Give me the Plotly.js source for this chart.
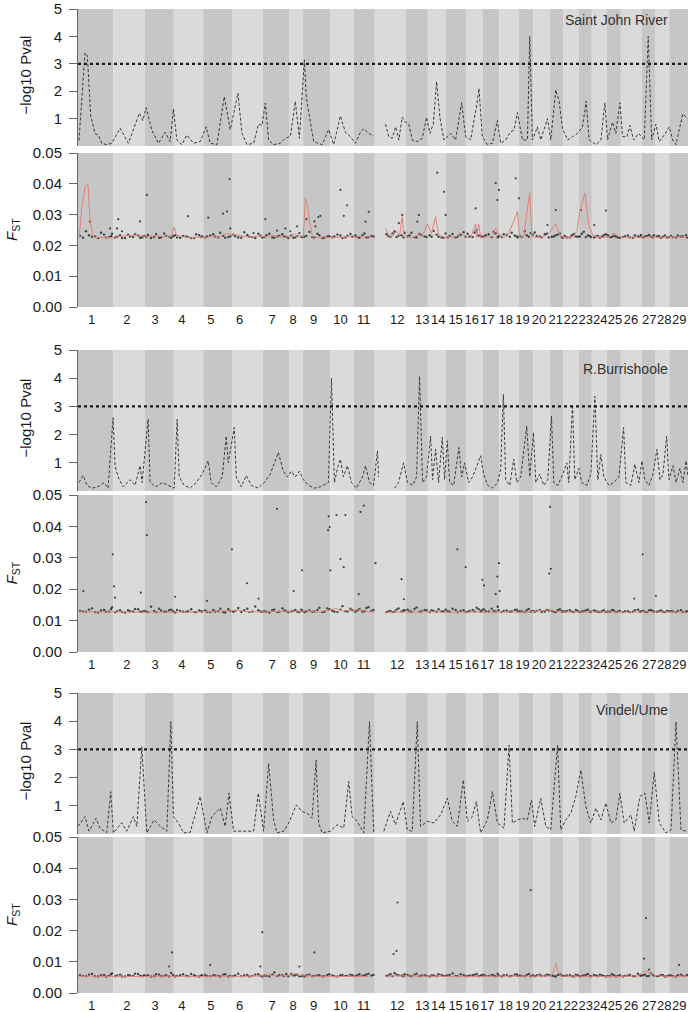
<!DOCTYPE html>
<html><head><meta charset="utf-8">
<script src="https://cdn.plot.ly/plotly-3.0.1.min.js"></script>
<style>html,body{margin:0;padding:0;background:#fff}#chart{width:692px;height:1012px}</style>
</head><body><div id="chart"></div>
<script>
// ---------- data ----------
const chromosomes = ['1','2','3','4','5','6','7','8','9','10','11','12','13','14','15','16','17','18','19','20','21','22','23','24','25','26','27','28','29'];
// chromosome lengths (cumulative position units)
const chromLength = [35.3,31.4,29,29.3,28.7,30.6,27,13.4,27.3,23.3,21,30.7,22.3,18,20,16.4,17,19,15,16.6,13.4,15,13.3,14.7,14.3,20.7,13.3,14.3,18.7];
// position of chromosome labels (cumulative)
const labelPos = [13.7,48.7,77,103.7,132.7,161.3,193.7,214.7,235.3,262,285.3,318.7,343.7,359.7,377,393,408.7,427,443.7,460.3,477,492,507,521.3,536,552,570.3,585.3,600.3];
const panelNames = ['Saint John River','R.Burrishoole','Vindel/Ume'];
const pvalTicks = [1,2,3,4,5];
const fstTicks = [0,0.01,0.02,0.03,0.04,0.05];
const fstTickText = ['0.00','0.01','0.02','0.03','0.04','0.05'];
const threshold = 3;

// -log10 P values along the genome [position, value]; null = no data
const sjPval = [[1,0.2],[7,3.4],[9.3,3.3],[12.7,1.1],[17,0.45],[20.3,0.4],[23.7,0.1],[28.7,0.05],[33.7,0.1],[42,0.65],[50.3,0.1],[61.3,1.2],[64.7,0.93],[68,1.4],[73.7,0.58],[80.3,0.1],[87,0.5],[92,0.16],[95.3,1.35],[98.7,0.22],[103.7,0.05],[108.7,0.4],[115.3,0.1],[122,0.16],[128,0.7],[132,0.1],[138.7,0.05],[146,1.8],[152,0.6],[159.7,1.93],[163.7,0.46],[168.7,0.05],[175.3,0.1],[180.3,0.8],[183.7,0.75],[187,1.57],[190.3,0.22],[195.3,0.05],[202,0.1],[207,0.28],[212,0.35],[217,1.63],[221,0.28],[226,3.15],[228,1.75],[230.3,1.28],[235.3,0.16],[243.7,0.05],[250.3,0.6],[255.3,0.05],[262,1.1],[267,0.5],[272,0.34],[277,0.1],[282,0.5],[285.3,0.63],[290.3,0.46],[295.3,0.36],null,[307,0.8],[310.3,0.34],[313.7,0.28],[317,0.7],[320.3,0.22],[323.7,1.05],[327,0.87],[330.3,0.8],[333.7,0.22],[338.7,0.16],[343.7,0.28],[348,1.05],[351.3,0.46],[354.7,0.8],[358,2.35],[361.3,1.05],[365.3,0.22],[372,0.46],[377,0.22],[383,1.58],[387,0.34],[392,0.22],[395.3,0.93],[398,1.46],[400.3,2.1],[403.7,0.34],[408.7,0.05],[413.7,0.1],[418.7,0.93],[422,0.1],[427,0.22],[432,0.52],[435.3,0.58],[438.7,1.22],[443.7,0.22],[448.7,0.22],[451,4.0],[453.7,0.22],[458.7,0.7],[462,0.22],[468.7,1.0],[472,0.22],[477,2.05],[480.3,1.64],[483.7,0.64],[488.7,0.22],[493.7,0.34],[498.7,0.46],[503.7,0.7],[507.3,1.64],[510.3,0.22],[517,0.05],[522,0.22],[526,1.58],[528.7,0.22],[533.7,0.87],[537,0.46],[541,1.58],[543.7,0.34],[548,0.34],[551,0.75],[554.7,0.22],[559.7,0.46],[565.3,0.22],[569.3,4.0],[572.7,0.22],[577,0.8],[580.3,0.16],[585.3,0.4],[590.3,0.7],[593.7,0.22],[597,0.05],[603.7,1.17],[608.7,1.0]];
const buPval = [[1,0.3],[5,0.55],[9,0.2],[14,0.1],[20,0.15],[26,0.3],[30,0.1],[35,2.6],[37,0.9],[40,0.5],[45,0.15],[52,0.4],[57,0.2],[62,0.9],[64,0.3],[70,2.55],[72,0.3],[78,0.15],[84,0.3],[90,0.2],[96,0.1],[99,2.55],[101,0.5],[106,0.2],[112,0.1],[118,0.3],[124,0.6],[130,1.07],[133,0.3],[138,0.15],[144,0.5],[148,1.95],[150,1.0],[156,2.25],[158,0.5],[163,0.15],[168,0.55],[173,0.2],[180,0.1],[186,0.3],[192,0.6],[200,1.37],[205,0.7],[209,0.5],[213,0.7],[217,0.5],[221,0.7],[225,0.4],[230,0.2],[236,0.1],[242,0.15],[250,0.3],[253,4.0],[256,0.3],[259,0.8],[262,1.13],[265,0.5],[269,0.9],[273,0.3],[278,0.1],[284,0.5],[287,0.9],[291,0.3],[295,0.2],[299,1.42],[300,0.5],null,[316,0.1],[320,0.3],[325,1.0],[329,0.3],[334,0.2],[338,0.5],[341,4.07],[344,0.3],[348,0.5],[352,1.95],[354,0.4],[357,1.48],[360,0.3],[363.7,1.9],[366,0.4],[368.7,1.78],[371,0.3],[375,0.2],[380.3,1.54],[383,0.5],[386,1.0],[390,0.3],[394,0.5],[398,0.9],[402,1.25],[405,0.6],[409,0.2],[414,0.1],[419,0.3],[422,0.8],[424.7,3.42],[427,0.4],[431,0.2],[435,1.13],[438,0.3],[442,0.5],[448,2.3],[451,0.5],[454.7,2.07],[457,0.3],[461,0.6],[465,0.2],[469,0.4],[472.7,2.66],[475,0.3],[479,0.2],[484,0.6],[488,1.0],[490,0.3],[493.7,3.07],[496,0.4],[500,0.8],[503,0.3],[508,0.2],[512,0.6],[516,3.36],[519,0.4],[522,1.3],[525,0.5],[530,0.2],[535,0.3],[540,0.5],[544.7,2.25],[547,0.3],[552,0.2],[556,0.95],[560,0.3],[563,1.07],[566,0.4],[570,0.2],[574,0.6],[578,1.48],[581,0.4],[584,0.6],[587.7,1.95],[590,0.4],[594,0.9],[597,0.3],[601,0.8],[604,0.3],[607,1.07],[609,0.5]];
const vuPval = [[0,0.27],[7,0.62],[11,0.1],[18,0.56],[22,0.2],[28.7,0.05],[32.7,1.5],[35.3,0.04],[43.7,0.4],[48.7,0.1],[55.3,0.62],[58.7,0.27],[63.7,3.1],[68.7,0.04],[76,0.5],[82,0.27],[88.7,0.1],[92.7,3.98],[95.3,0.62],[100.3,0.39],[105.3,0.04],[112,0.06],[122,1.33],[128.7,0.04],[133.7,0.62],[142,0.92],[147,0.27],[150.7,1.45],[155.3,0.1],[165.3,0.1],[175.3,0.1],[180,1.45],[185.3,0.1],[190.3,2.5],[195.3,0.5],[198.7,0.04],[205.3,0.1],[210.3,0.39],[218,1.03],[223.7,0.8],[228.7,0.74],[233.7,0.56],[237.7,2.62],[240.3,0.39],[243.7,0.04],[252,0.1],[258.7,0.33],[265.3,0.21],[270.3,1.86],[273.7,0.62],[278.7,0.45],[285.3,0.04],[291,3.98],[295.3,0.04],null,[305.3,0.1],[312,0.8],[317,0.33],[324.7,1.15],[328.7,0.15],[333.7,0.1],[338.7,3.98],[342,0.27],[348.7,0.45],[355.3,0.39],[362,0.68],[368.7,1.27],[373.7,0.45],[378.7,0.27],[384.7,1.92],[388.7,0.45],[393.7,0.62],[397.7,1.15],[402,0.04],[408.7,0.5],[413.7,1.5],[418.7,0.39],[425.3,0.21],[430.3,3.15],[433.7,0.39],[438.7,0.5],[443.7,0.56],[448.7,0.5],[452.7,1.2],[456,0.27],[462,1.27],[467,0.27],[472,0.15],[478.7,3.15],[482,0.15],[487,0.5],[492,0.74],[497,1.33],[502,2.27],[507,0.98],[512,0.39],[517,0.92],[522,0.5],[527,1.1],[532,0.39],[537,0.5],[541,1.45],[545.3,0.39],[552,0.68],[555.3,0.1],[561,1.33],[566,1.45],[570.3,0.39],[575.3,2.2],[580.3,0.39],[587,0.04],[592,0.15],[597,3.98],[602,0.15],[607,0.1]];

// SNP window positions shared across populations (baseline FST points), two interleaved sets
const snpPos = [2,8,14,20,26,31,34, 37,42,47,52,57,62,66, 68,73,78,83,88,93, 97,102,108,113,118,123, 127,132,137,142,147,152, 155,160,166,171,177,182, 186,191,196,201,206,210, 213,217,221,224, 226,231,236,241,246,251, 254,259,264,269,274, 277,281,286,290,295, 308,312,316,320,325, 329,333,338,343,348, 351,355,360,365, 369,374,379,385, 389,394,398,402, 405,410,415,419, 423,428,433,438, 441,446,450,454, 456,461,466,470, 473,477,481,484, 486,491,495,499, 501,505,509,512, 515,519,523,527, 529,533,537,541, 544,549,554,559,562, 564,568,572,575, 578,582,586,590, 592,597,602,607];
const snpPos2 = [5,11,17,23,28,33, 39,44,50,55,60,64, 70,76,81,86,91,95, 99,105,110,116,121,124, 129,135,140,145,150, 157,163,169,174,180,184, 188,194,199,204,208, 215,219,223, 228,234,239,244,249, 256,262,267,272, 279,284,288,293, 310,314,318,323,326, 331,336,341,346, 353,358,363,367, 371,377,382,387, 391,396,400,403, 407,413,417,420, 425,431,436,439, 443,448,452, 458,463,468, 475,479,483, 488,493,497, 503,507,511, 517,521,525, 531,535,539, 546,551,556,561, 566,570,574, 580,584,588, 594,599,604,608];
const sjFst = [0.0231,0.0246,0.0228,0.0224,0.0235,0.0227,0.0238, 0.0226,0.0233,0.0224,0.0229,0.0236,0.0225,0.0231, 0.0228,0.0224,0.0237,0.0226,0.0231,0.0225, 0.0233,0.0225,0.0229,0.0224,0.0236,0.0227, 0.0226,0.0232,0.0228,0.0241,0.0225,0.0230, 0.0235,0.0226,0.0243,0.0228,0.0224,0.0232, 0.0227,0.0238,0.0225,0.0231,0.0229,0.0224, 0.0232,0.0226,0.0240,0.0227, 0.0228,0.0244,0.0226,0.0233,0.0225,0.0230, 0.0226,0.0235,0.0224,0.0231,0.0228, 0.0232,0.0225,0.0239,0.0227,0.0229, 0.0236,0.0228,0.0245,0.0231,0.0226, 0.0229,0.0241,0.0226,0.0234,0.0227, 0.0233,0.0247,0.0228,0.0225, 0.0226,0.0237,0.0229,0.0243, 0.0238,0.0227,0.0249,0.0231, 0.0229,0.0236,0.0244,0.0226, 0.0227,0.0234,0.0241,0.0229, 0.0231,0.0246,0.0228,0.0235, 0.0242,0.0229,0.0236,0.0226, 0.0228,0.0233,0.0239,0.0225, 0.0231,0.0226,0.0237,0.0228, 0.0229,0.0244,0.0232,0.0227, 0.0226,0.0231,0.0228,0.0236, 0.0233,0.0227,0.0229,0.0225, 0.0227,0.0232,0.0225,0.0229,0.0234, 0.0226,0.0231,0.0228,0.0233, 0.0229,0.0225,0.0232,0.0227, 0.0231,0.0226,0.0229,0.0234];
const sjFst2 = [0.0225,0.0233,0.0229,0.0241,0.0226,0.0230, 0.0228,0.0224,0.0235,0.0227,0.0232,0.0226, 0.0234,0.0227,0.0225,0.0239,0.0228,0.0230, 0.0226,0.0231,0.0227,0.0224,0.0233,0.0229, 0.0229,0.0236,0.0226,0.0231,0.0227, 0.0230,0.0225,0.0234,0.0227,0.0238,0.0226, 0.0233,0.0226,0.0229,0.0236,0.0227, 0.0225,0.0231,0.0228, 0.0231,0.0227,0.0238,0.0224,0.0229, 0.0229,0.0232,0.0226,0.0237, 0.0227,0.0233,0.0226,0.0231, 0.0230,0.0239,0.0227,0.0233,0.0241, 0.0232,0.0227,0.0237,0.0229, 0.0228,0.0235,0.0226,0.0239, 0.0231,0.0226,0.0234,0.0228, 0.0229,0.0242,0.0232,0.0227, 0.0233,0.0227,0.0239,0.0230, 0.0236,0.0228,0.0232,0.0226, 0.0227,0.0233,0.0240, 0.0231,0.0226,0.0238, 0.0229,0.0235,0.0227, 0.0226,0.0233,0.0229, 0.0238,0.0227,0.0231, 0.0229,0.0225,0.0233, 0.0227,0.0231,0.0226, 0.0230,0.0226,0.0233,0.0228, 0.0229,0.0234,0.0226, 0.0231,0.0228,0.0226, 0.0227,0.0232,0.0229,0.0226];
const buFst = [0.0131,0.0128,0.0139,0.0126,0.0134,0.0129,0.0142, 0.0127,0.0133,0.0126,0.0130,0.0137,0.0128,0.0131, 0.0129,0.0144,0.0127,0.0132,0.0128,0.0135, 0.0126,0.0131,0.0128,0.0136,0.0127,0.0130, 0.0132,0.0127,0.0129,0.0138,0.0126,0.0131, 0.0128,0.0140,0.0133,0.0127,0.0145,0.0129, 0.0130,0.0126,0.0135,0.0128,0.0132,0.0127, 0.0129,0.0134,0.0127,0.0131, 0.0127,0.0133,0.0129,0.0141,0.0128,0.0136, 0.0131,0.0127,0.0146,0.0129,0.0133, 0.0128,0.0137,0.0130,0.0143,0.0134, 0.0127,0.0131,0.0128,0.0139,0.0132, 0.0135,0.0128,0.0142,0.0130,0.0133, 0.0127,0.0131,0.0136,0.0129, 0.0130,0.0138,0.0127,0.0133, 0.0128,0.0134,0.0141,0.0129, 0.0136,0.0129,0.0131,0.0144, 0.0127,0.0132,0.0129,0.0135, 0.0130,0.0127,0.0137,0.0131, 0.0128,0.0134,0.0129,0.0132, 0.0131,0.0127,0.0136,0.0129, 0.0129,0.0133,0.0127,0.0131, 0.0127,0.0130,0.0135,0.0128, 0.0132,0.0128,0.0130,0.0127, 0.0129,0.0134,0.0127,0.0131, 0.0127,0.0130,0.0128,0.0135,0.0129, 0.0131,0.0127,0.0134,0.0129, 0.0128,0.0132,0.0127,0.0130, 0.0130,0.0127,0.0133,0.0128];
const buFst2 = [0.0129,0.0135,0.0127,0.0132,0.0128,0.0137, 0.0130,0.0127,0.0133,0.0129,0.0136,0.0128, 0.0127,0.0131,0.0138,0.0128,0.0133,0.0130, 0.0134,0.0128,0.0130,0.0127,0.0132,0.0129, 0.0128,0.0134,0.0130,0.0127,0.0136, 0.0131,0.0127,0.0138,0.0129,0.0133,0.0128, 0.0128,0.0133,0.0127,0.0139,0.0130, 0.0131,0.0128,0.0135, 0.0130,0.0128,0.0134,0.0127,0.0139, 0.0128,0.0135,0.0130,0.0138, 0.0133,0.0129,0.0140,0.0131, 0.0130,0.0127,0.0135,0.0129,0.0133, 0.0130,0.0137,0.0128,0.0134, 0.0133,0.0128,0.0130,0.0135, 0.0128,0.0134,0.0131,0.0127, 0.0131,0.0129,0.0136,0.0132, 0.0130,0.0138,0.0128,0.0133, 0.0131,0.0128,0.0134,0.0129, 0.0129,0.0133,0.0128, 0.0131,0.0127,0.0134, 0.0128,0.0133,0.0130, 0.0131,0.0128,0.0134, 0.0129,0.0132,0.0128, 0.0130,0.0127,0.0133, 0.0128,0.0132,0.0129, 0.0130,0.0127,0.0133,0.0129, 0.0128,0.0132,0.0130, 0.0130,0.0128,0.0131, 0.0129,0.0131,0.0127,0.0130];
const vuFst = [0.0057,0.0054,0.0061,0.0053,0.0058,0.0055,0.0063, 0.0054,0.0059,0.0053,0.0056,0.0062,0.0055,0.0057, 0.0055,0.0053,0.0060,0.0054,0.0057,0.0064, 0.0053,0.0057,0.0055,0.0061,0.0054,0.0056, 0.0058,0.0054,0.0056,0.0053,0.0060,0.0055, 0.0054,0.0062,0.0057,0.0053,0.0059,0.0055, 0.0056,0.0053,0.0066,0.0058,0.0055,0.0054, 0.0061,0.0057,0.0054,0.0056, 0.0053,0.0059,0.0055,0.0057,0.0054,0.0060, 0.0056,0.0053,0.0058,0.0055,0.0057, 0.0054,0.0060,0.0056,0.0062,0.0058, 0.0055,0.0061,0.0064,0.0057,0.0054, 0.0058,0.0054,0.0062,0.0056,0.0055, 0.0053,0.0057,0.0060,0.0055, 0.0056,0.0063,0.0054,0.0058, 0.0054,0.0057,0.0061,0.0055, 0.0059,0.0055,0.0057,0.0062, 0.0053,0.0058,0.0055,0.0060, 0.0056,0.0054,0.0061,0.0057, 0.0054,0.0059,0.0055,0.0058, 0.0057,0.0053,0.0060,0.0055, 0.0055,0.0058,0.0053,0.0057, 0.0053,0.0056,0.0061,0.0054, 0.0058,0.0054,0.0056,0.0053, 0.0055,0.0060,0.0053,0.0057, 0.0053,0.0056,0.0054,0.0062,0.0055, 0.0057,0.0054,0.0063,0.0056, 0.0054,0.0058,0.0053,0.0056, 0.0056,0.0053,0.0059,0.0055];
const vuFst2 = [0.0055,0.0059,0.0054,0.0057,0.0053,0.0060, 0.0056,0.0053,0.0058,0.0055,0.0061,0.0054, 0.0057,0.0054,0.0059,0.0055,0.0053,0.0058, 0.0055,0.0060,0.0054,0.0057,0.0053,0.0056, 0.0054,0.0057,0.0055,0.0059,0.0053, 0.0056,0.0054,0.0058,0.0055,0.0060,0.0053, 0.0055,0.0059,0.0054,0.0057,0.0061, 0.0056,0.0059,0.0054, 0.0057,0.0054,0.0056,0.0053,0.0058, 0.0054,0.0057,0.0055,0.0059, 0.0057,0.0055,0.0059,0.0056, 0.0057,0.0054,0.0059,0.0056,0.0060, 0.0055,0.0059,0.0054,0.0057, 0.0056,0.0054,0.0058,0.0055, 0.0058,0.0055,0.0060,0.0054, 0.0056,0.0059,0.0054,0.0057, 0.0055,0.0058,0.0054,0.0056, 0.0057,0.0054,0.0059,0.0055, 0.0055,0.0058,0.0054, 0.0057,0.0055,0.0059, 0.0054,0.0058,0.0056, 0.0056,0.0054,0.0059, 0.0055,0.0058,0.0054, 0.0056,0.0059,0.0055, 0.0054,0.0057,0.0055, 0.0055,0.0058,0.0054,0.0057, 0.0059,0.0055,0.0058, 0.0055,0.0057,0.0054, 0.0054,0.0057,0.0055,0.0058];

// outlying FST windows [position, FST]
const sjFstOutliers = [[12,0.0277],[32,0.0255],[39,0.0255],[40.3,0.0285],[44,0.0246],[62,0.0278],[68.7,0.0364],[110,0.0295],[130,0.029],[144.7,0.0303],[148.7,0.031],[151.3,0.0415],[152,0.0255],[175.3,0.024],[187,0.0285],[198.7,0.0248],[207,0.0255],[212,0.0246],[218.7,0.0262],[228,0.0285],[236,0.0278],[237,0.0262],[240,0.0292],[242,0.0296],[262,0.038],[268.7,0.033],[265.3,0.0296],[290.3,0.0309],[287,0.0277],[323.7,0.0299],[320.3,0.0272],[338.7,0.0277],[340.3,0.0299],[358.7,0.0436],[365.3,0.0374],[367,0.0299],[397,0.032],[417,0.0402],[420.3,0.038],[418.7,0.0347],[437,0.0418],[440.3,0.0353],[477,0.0315],[468.7,0.0266],[502,0.0315],[527,0.0313],[515.3,0.0266]];
const buFstOutliers = [[5.3,0.0194],[34.7,0.0311],[36,0.0209],[37,0.0173],[62.7,0.0189],[68,0.0477],[68.7,0.0372],[97,0.0176],[128.7,0.0163],[153.7,0.0327],[168.7,0.0219],[180.3,0.017],[198.7,0.0456],[223.7,0.026],[215.3,0.0194],[250.3,0.0432],[251.3,0.0398],[249.7,0.0388],[252,0.026],[258,0.0436],[262,0.0296],[265.3,0.027],[267,0.0436],[282,0.0446],[285.3,0.0466],[297,0.0283],[280.3,0.0184],[323,0.0232],[325.3,0.0168],[378.7,0.0327],[387,0.027],[403.7,0.023],[405.3,0.0212],[417,0.0184],[420.3,0.0283],[418.7,0.024],[421,0.0194],[471.3,0.0462],[472,0.0265],[470.3,0.025],[563.7,0.0311],[555.3,0.017],[577,0.0179]];
const vuFstOutliers = [[94,0.013],[91,0.0085],[184,0.0195],[132,0.009],[182,0.0085],[221,0.0085],[236,0.013],[318,0.0135],[315,0.0125],[319,0.029],[452,0.033],[567,0.024],[565,0.011],[600,0.009],[570,0.0075]];

// smoothed FST [position, FST]
const sjFstSmooth = [[1,0.0223],[4,0.0326],[7,0.039],[10,0.0397],[12,0.0282],[15,0.0228],[20,0.0225],[28,0.0226],[35,0.0224],[42,0.023],[50,0.0232],[58,0.0234],[64,0.0231],[70,0.0228],[78,0.0232],[86,0.0228],[93,0.0229],[96,0.0259],[98,0.0235],[104,0.0228],[112,0.0225],[120,0.0227],[128,0.0226],[134,0.0229],[140,0.0227],[146,0.0236],[152,0.0238],[158,0.0234],[164,0.0229],[170,0.0227],[176,0.0228],[182,0.0231],[188,0.0227],[194,0.0233],[200,0.0229],[206,0.0226],[212,0.0228],[216,0.0238],[220,0.0228],[225,0.0229],[227,0.0353],[229,0.033],[231,0.0282],[234,0.0228],[240,0.0226],[246,0.0227],[252,0.0225],[258,0.0227],[264,0.0226],[270,0.0229],[276,0.0226],[282,0.023],[288,0.0229],[295,0.0226],null,[307,0.0255],[311,0.0228],[315,0.0233],[318,0.0245],[321,0.0232],[323.7,0.0293],[325,0.0238],[328,0.0228],[333,0.0225],[338,0.0232],[344,0.0235],[349,0.027],[353,0.0238],[357,0.0293],[360,0.0235],[365,0.0226],[372,0.0227],[378,0.0229],[381,0.024],[384,0.0236],[388,0.0227],[392,0.0224],[397,0.027],[398,0.0225],[400,0.027],[402,0.0226],[408,0.0227],[414,0.0229],[417,0.0255],[420,0.0238],[425,0.0225],[429,0.0234],[434,0.027],[438.7,0.031],[441,0.0226],[445,0.0228],[451,0.0374],[453,0.0228],[458,0.0226],[464,0.0227],[469,0.0235],[477,0.027],[482,0.0228],[488,0.0226],[494,0.0227],[498,0.0245],[501,0.031],[506,0.0369],[510,0.0265],[514,0.0232],[520,0.0226],[530,0.0226],[535,0.024],[540,0.0228],[548,0.0226],[556,0.0227],[564,0.0226],[572,0.0227],[580,0.0226],[590,0.0228],[600,0.0227],[608,0.0229]];
const buFstSmooth = [[1,0.0127],[10,0.0128],[25,0.0127],[35,0.0129],[50,0.0127],[70,0.0128],[90,0.0127],[110,0.0127],[130,0.0128],[150,0.0131],[160,0.0133],[170,0.0128],[190,0.0128],[210,0.0129],[230,0.0131],[240,0.0127],[252,0.0134],[258,0.0138],[265,0.013],[280,0.0135],[290,0.0128],[296,0.0127],null,[307,0.0127],[320,0.0128],[335,0.0127],[350,0.0128],[365,0.0127],[380,0.0127],[395,0.0129],[410,0.0128],[430,0.0127],[450,0.0127],[460,0.0131],[470,0.0134],[478,0.0129],[490,0.0127],[510,0.0128],[530,0.0127],[550,0.0127],[570,0.0128],[590,0.0127],[608,0.0127]];
const vuFstSmooth = [[1,0.0054],[20,0.0053],[40,0.0054],[60,0.0053],[80,0.0054],[100,0.0053],[120,0.0053],[140,0.0054],[160,0.0053],[186,0.0055],[190,0.0062],[194,0.0056],[200,0.0054],[214,0.0058],[217,0.0063],[221,0.0056],[230,0.0054],[250,0.0053],[270,0.0054],[290,0.0053],null,[308,0.0054],[320,0.0055],[340,0.0054],[360,0.0053],[380,0.0054],[400,0.0053],[420,0.0054],[440,0.0053],[460,0.0054],[472,0.0054],[475,0.0072],[477,0.0095],[479,0.0072],[482,0.0054],[500,0.0053],[520,0.0054],[540,0.0053],[560,0.0055],[564,0.0068],[567,0.007],[571,0.0066],[575,0.0056],[590,0.0053],[608,0.0054]];

// ---------- build ----------
const W = 692, H = 1012, ML = 78, MR = 4;
const PW = W - ML - MR;
const py = px => 1 - px / H;           // pixel row -> paper fraction
const panels = [
  {pval: sjPval, fst: sjFst, fst2: sjFst2, out: sjFstOutliers, smooth: sjFstSmooth, top: [9,146], bot: [153,307], name: panelNames[0], nameY: 20},
  {pval: buPval, fst: buFst, fst2: buFst2, out: buFstOutliers, smooth: buFstSmooth, top: [350,491], bot: [495,652], name: panelNames[1], nameY: 369},
  {pval: vuPval, fst: vuFst, fst2: vuFst2, out: vuFstOutliers, smooth: vuFstSmooth, top: [693,834], bot: [837,993], name: panelNames[2], nameY: 710}
];
const xs = arr => arr.map(p => p === null ? null : p[0]);
const ys = arr => arr.map(p => p === null ? null : p[1]);
const total = chromLength.reduce((a, b) => a + b, 0);
const starts = []; { let s = 0; chromLength.forEach(l => { starts.push(s); s += l; }); }

const traces = [], shapes = [], annotations = [];
const baseFont = 'Liberation Sans, Arial, sans-serif';
const layout = {
  width: W, height: H, margin: {l: ML, r: MR, t: 0, b: 0},
  paper_bgcolor: '#fff', plot_bgcolor: '#fff', showlegend: false,
  font: {family: baseFont, color: '#1a1a1a'}
};
const yCommon = {showgrid: false, zeroline: false, showline: true, linecolor: '#666', linewidth: 1,
  ticks: 'outside', ticklen: 8, tickcolor: '#666', tickwidth: 1, ticklabelstandoff: 4, ticklabeloverflow: 'allow',
  tickfont: {size: 15, family: baseFont, color: '#1a1a1a'}, fixedrange: true};

panels.forEach((p, i) => {
  const xa = i === 0 ? 'x' : 'x' + (i + 1);
  const ytA = 'y' + (2 * i + 1 === 1 ? '' : 2 * i + 1);
  const ybA = 'y' + (2 * i + 2);
  const xKey = i === 0 ? 'xaxis' : 'xaxis' + (i + 1);
  const ytKey = 'yaxis' + (2 * i + 1 === 1 ? '' : 2 * i + 1);
  const ybKey = 'yaxis' + (2 * i + 2);
  layout[xKey] = {domain: [0, 1], range: [0, total], anchor: ybA, showgrid: false, zeroline: false, showline: false,
    ticks: '', tickvals: labelPos, ticktext: chromosomes, tickangle: 0, ticklabelstandoff: 3, ticklabeloverflow: 'allow',
    tickfont: {size: 13, family: 'Liberation Sans Narrow, Arial Narrow, ' + baseFont, color: '#1a1a1a'}, fixedrange: true};
  layout[ytKey] = Object.assign({}, yCommon, {domain: [py(p.top[1]), py(p.top[0])], range: [0, 5], anchor: xa,
    tickvals: pvalTicks, ticktext: pvalTicks.map(String)});
  layout[ybKey] = Object.assign({}, yCommon, {domain: [py(p.bot[1]), py(p.bot[0])], range: [0, 0.05], anchor: xa,
    tickvals: fstTicks, ticktext: fstTickText});
  // chromosome bands
  [ytA, ybA].forEach(ya => {
    chromLength.forEach((l, k) => {
      shapes.push({type: 'rect', layer: 'below', xref: xa, yref: ya + ' domain', x0: starts[k], x1: starts[k] + l, y0: 0, y1: 1,
        fillcolor: k % 2 === 0 ? '#c6c6c6' : '#dadada', line: {width: 0}});
    });
  });
  // threshold
  shapes.push({type: 'line', layer: 'above', xref: xa + ' domain', yref: ytA, x0: 0, x1: 1, y0: threshold, y1: threshold,
    line: {color: '#1a1a1a', width: 2.2, dash: 'dot'}});
  // traces
  traces.push({type: 'scatter', mode: 'lines', xaxis: xa, yaxis: ytA, x: xs(p.pval), y: ys(p.pval), connectgaps: false,
    line: {color: '#3a3a3a', width: 1, dash: '3px,2px'}, hoverinfo: 'skip'});
  traces.push({type: 'scatter', mode: 'markers', xaxis: xa, yaxis: ybA, x: snpPos, y: p.fst,
    marker: {size: 2.4, color: '#2a2a2a', opacity: 0.85}, hoverinfo: 'skip'});
  traces.push({type: 'scatter', mode: 'markers', xaxis: xa, yaxis: ybA, x: snpPos2, y: p.fst2,
    marker: {size: 2.4, color: '#2a2a2a', opacity: 0.85}, hoverinfo: 'skip'});
  traces.push({type: 'scatter', mode: 'markers', xaxis: xa, yaxis: ybA, x: xs(p.out), y: ys(p.out),
    marker: {size: 2.2, color: '#2a2a2a', opacity: 0.85}, hoverinfo: 'skip'});
  traces.push({type: 'scatter', mode: 'lines', xaxis: xa, yaxis: ybA, x: xs(p.smooth), y: ys(p.smooth), connectgaps: false,
    line: {color: '#e0837a', width: 1}, hoverinfo: 'skip'});
  // titles
  annotations.push({xref: 'paper', yref: 'paper', x: (25 - ML) / PW, y: py((p.top[0] + p.top[1]) / 2 - 2), text: '\u2212log10 Pval',
    textangle: -90, showarrow: false, xanchor: 'center', yanchor: 'middle', font: {size: 15, family: baseFont, color: '#1a1a1a'}});
  annotations.push({xref: 'paper', yref: 'paper', x: (12 - ML) / PW, y: py((p.bot[0] + p.bot[1]) / 2), text: '<i>F</i><sub>ST</sub>',
    textangle: -90, showarrow: false, xanchor: 'center', yanchor: 'middle', font: {size: 15, family: baseFont, color: '#1a1a1a'}});
  annotations.push({xref: 'paper', yref: 'paper', x: (670 - ML) / PW, y: py(p.nameY), text: p.name, showarrow: false,
    xanchor: 'right', yanchor: 'middle', font: {size: 14, family: baseFont, color: '#333'}});
});
layout.shapes = shapes;
layout.annotations = annotations;
Plotly.newPlot('chart', traces, layout, {displayModeBar: false, staticPlot: true});
</script></body></html>
